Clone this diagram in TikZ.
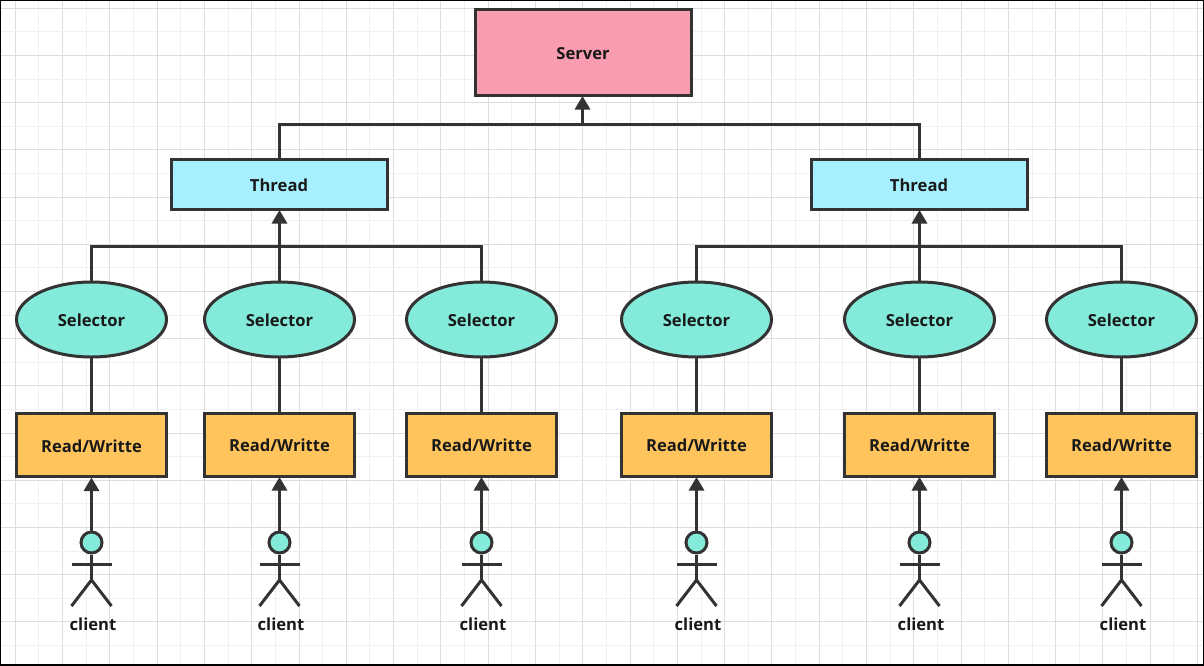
\documentclass[tikz,border=0pt]{standalone}
\usepackage{fontspec}
\setmainfont{Open Sans}
\usetikzlibrary{arrows.meta,shapes.geometric}
\definecolor{ink}{HTML}{333333}
\definecolor{gridmaj}{HTML}{DDDDDD}
\definecolor{gridmin}{HTML}{F0F0F0}
\tikzset{
  x=1pt,y=-1pt,
  lbl/.style={font=\bfseries\fontsize{16.6}{20}\selectfont,text=black!90},
  boxn/.style={draw=ink,line width=3pt,inner sep=0pt,outer sep=0pt,lbl,text height=14.4pt,text depth=0pt},
  serverbox/.style={boxn,fill=pinkfill,minimum width=216pt,minimum height=86pt},
  threadbox/.style={boxn,fill=threadfill,minimum width=216pt,minimum height=50pt},
  selnode/.style={boxn,ellipse,fill=selfill,minimum width=150pt,minimum height=75pt},
  rwbox/.style={boxn,fill=rwfill,minimum width=150pt,minimum height=63pt},
  headn/.style={draw=ink,line width=3pt,circle,fill=selfill,minimum size=21pt,inner sep=0pt},
  wire/.style={draw=ink,line width=3pt},
  arrowwire/.style={wire,-{Triangle[length=13.5pt,width=15pt]},shorten >=1pt},
  limb/.style={draw=ink,line width=3pt},
}
\definecolor{pinkfill}{HTML}{F99CB0}
\definecolor{threadfill}{HTML}{A6F0FF}
\definecolor{selfill}{HTML}{84EBDB}
\definecolor{rwfill}{HTML}{FFC55C}
\begin{document}
\begin{tikzpicture}
\useasboundingbox (0,0) rectangle (1204,665);
\fill[white] (0,0) rectangle (1204,665);
% grid
\foreach \k in {0,...,50}{
  \pgfmathsetmacro\gx{15.3+23.645*\k}
  \pgfmathparse{int(mod(\k,2))}
  \ifnum\pgfmathresult=0
    \draw[gridmaj,line width=1pt] (\gx,0) -- (\gx,665);
  \else
    \draw[gridmin,line width=1pt] (\gx,0) -- (\gx,665);
  \fi
}
\foreach \k in {0,...,27}{
  \pgfmathsetmacro\gy{8.2+23.6*\k}
  \pgfmathparse{int(mod(\k,2))}
  \ifnum\pgfmathresult=0
    \draw[gridmaj,line width=1pt] (0,\gy) -- (1204,\gy);
  \else
    \draw[gridmin,line width=1pt] (0,\gy) -- (1204,\gy);
  \fi
}
\draw[black,line width=2pt] (0,0) rectangle (1204,665);
% server and threads
\node[serverbox] (server) at (583,52) {Server};
\node[threadbox] (t1) at (279,184) {Thread};
\node[threadbox] (t2) at (919,184) {Thread};
\coordinate (busS) at (582.5,124);
\draw[wire] (t1.north) |- (busS);
\draw[wire] (t2.north) |- (busS);
\draw[arrowwire] (busS) -- (server.south -| busS);
% columns
\foreach \n/\cx/\cy in {1/91.5/445,2/279.5/444.5,3/481.5/444.5,4/696.5/444.5,5/919.5/444.5,6/1121.5/444.5}{
  \node[selnode] (sel\n) at (\cx,319.5) {Selector};
  \node[rwbox] (rw\n) at (\cx,\cy) {Read/Writte};
  \node[headn] (head\n) at (\cx,542.5) {};
  \node[lbl,inner sep=0pt] (cl\n) at ({\cx+1.5},624) {client};
  \draw[wire] (sel\n) -- (rw\n);
  \draw[arrowwire] (head\n) -- (rw\n);
  % stick figure
  \coordinate (arml\n) at ({\cx-20},564);
  \coordinate (armr\n) at ({\cx+20},564);
  \coordinate (hip\n) at (\cx,580);
  \coordinate (legl\n) at ({\cx-20},606);
  \coordinate (legr\n) at ({\cx+20},606);
  \draw[limb] (head\n) -- (hip\n);
  \draw[limb] (arml\n) -- (armr\n);
  \draw[limb,line join=miter] (legl\n) -- (hip\n) -- (legr\n);
}
% buses
\coordinate (bus1) at (279.5,246);
\coordinate (bus2) at (919.5,246);
\draw[wire] (sel1.north) |- (sel3.north |- bus1) -- (sel3.north);
\draw[wire] (sel4.north) |- (sel6.north |- bus2) -- (sel6.north);
\draw[wire] (sel2.north) -- (bus1);
\draw[wire] (sel5.north) -- (bus2);
\draw[arrowwire] (bus1) -- (bus1 |- t1.south);
\draw[arrowwire] (bus2) -- (bus2 |- t2.south);
\end{tikzpicture}
\end{document}
